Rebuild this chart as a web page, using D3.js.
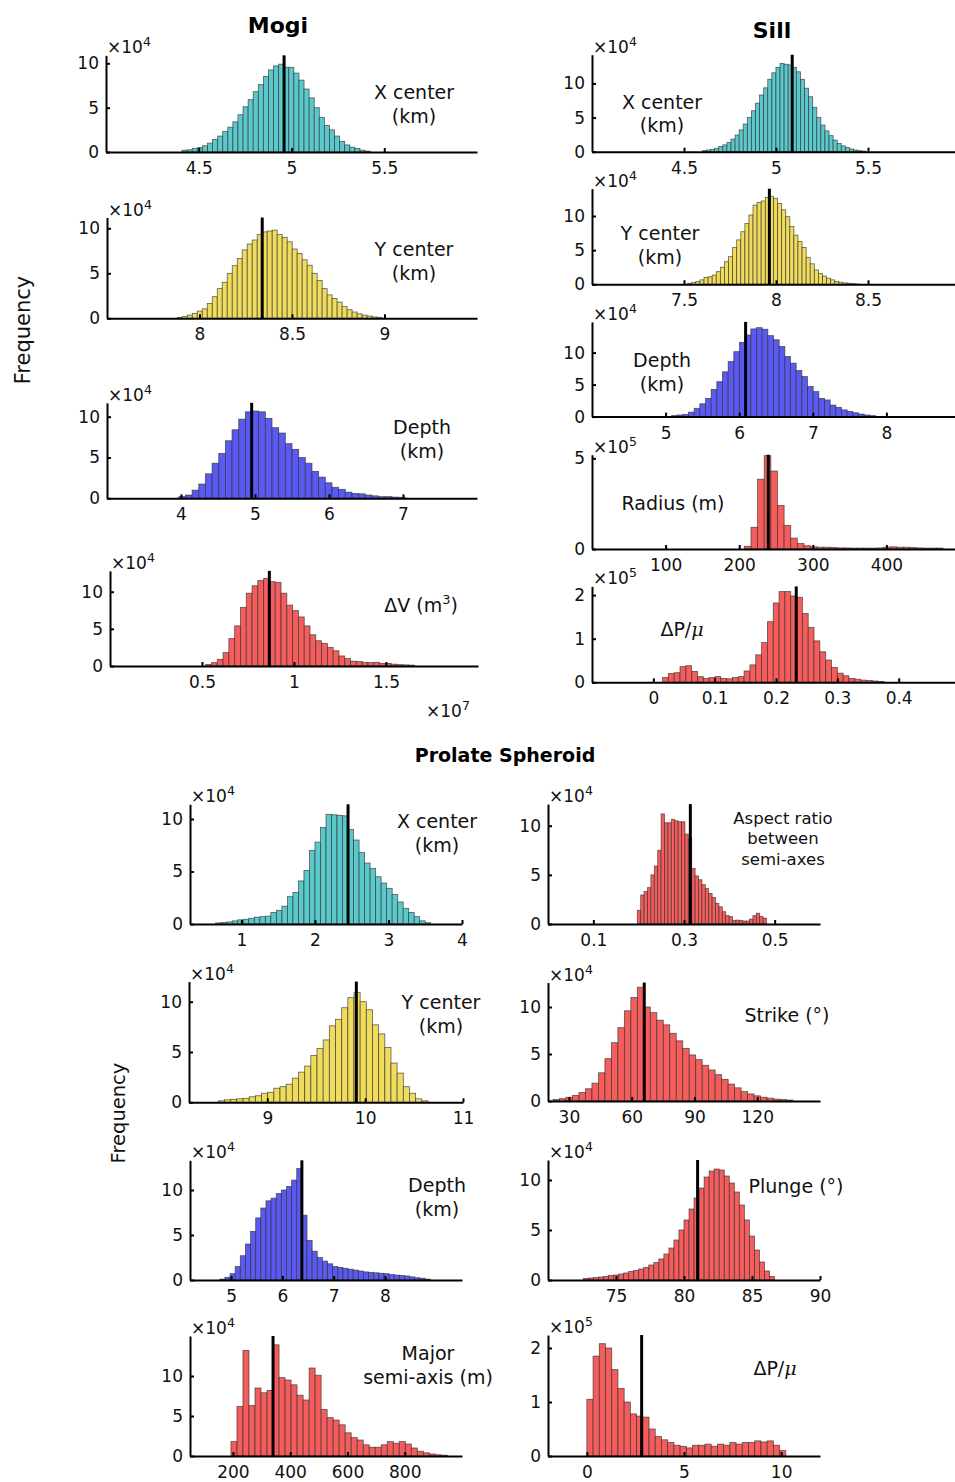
<!DOCTYPE html>
<html>
<head>
<meta charset="utf-8">
<script src="https://cdn.jsdelivr.net/npm/d3@7"></script>
<style>
  body { margin: 0; background: #fff; }
  svg { display: block; font-family: "DejaVu Sans", sans-serif; }
</style>
</head>
<body>
<svg id="fig" width="955" height="1482"></svg>
<script>
// ===== Posterior samples, binned (counts in units of the panel exponent) =====

// --- Mogi source ---
const mogiXStart = 4.41, mogiXWidth = 0.0274, mogiXBest = 4.96;
const mogiXCounts = [0.2,0.25,0.4,0.5,0.7,1.0,1.4,1.8,2.3,2.8,3.4,4.2,5.1,5.9,6.8,7.6,8.5,9.25,9.7,9.9,
  9.55,9.55,8.9,8.1,7.1,6.1,5.0,3.9,3.0,2.5,1.8,1.2,0.8,0.55,0.4,0.2,0.1];
const mogiXTicks = [4.5, 5, 5.5];

const mogiYStart = 7.88, mogiYWidth = 0.027, mogiYBest = 8.339;
const mogiYCounts = [0.1,0.2,0.35,0.55,0.8,1.05,1.65,2.4,3.3,4.0,5.0,5.85,6.65,7.6,8.25,8.7,9.3,
  9.6,9.7,9.8,9.3,9.0,8.5,7.7,7.2,6.5,5.9,5.0,4.2,3.3,2.6,2.2,1.8,1.3,0.95,0.7,0.5,0.35,0.25,0.15,0.08];
const mogiYTicks = [8, 8.5, 9];

const mogiZStart = 3.97, mogiZWidth = 0.09, mogiZBest = 4.955;
const mogiZCounts = [0.2,0.4,1.0,1.75,3.0,4.3,5.5,7.05,8.4,9.7,10.6,
  10.7,10.6,9.8,8.65,8.0,6.7,6.0,5.0,4.3,3.3,2.6,1.9,1.35,1.1,0.75,0.6,0.55,0.4,0.3,0.2,0.2,0.15,0.12];
const mogiZTicks = [4, 5, 6, 7];

const mogiVStart = 0.52, mogiVWidth = 0.0315, mogiVBest = 0.866;
const mogiVCounts = [0.2,0.45,0.9,1.8,3.7,5.4,7.9,9.8,10.8,11.5,11.8,
  11.35,11.25,9.8,8.2,7.45,6.6,5.4,4.2,3.4,3.05,2.5,2.05,1.35,1.0,0.65,0.6,0.5,0.45,0.5,0.35,0.35,0.25,0.18,0.15,0.12];
const mogiVTicks = [0.5, 1, 1.5];

// --- Sill source ---
const sillXStart = 4.6, sillXWidth = 0.0222, sillXBest = 5.088;
const sillXCounts = [0.15,0.25,0.35,0.5,0.75,1.0,1.35,1.85,2.45,3.2,4.05,5.0,6.0,7.1,8.3,9.35,10.6,11.55,12.35,12.9,12.8,12.7,
  12.35,11.7,10.6,9.3,8.05,6.5,5.0,3.9,3.05,2.35,1.7,1.2,0.85,0.6,0.4,0.25,0.15,0.1];
const sillXTicks = [4.5, 5, 5.5];

const sillYStart = 7.52, sillYWidth = 0.0222, sillYBest = 7.964;
const sillYCounts = [0.15,0.25,0.4,0.65,1.0,1.1,1.35,1.85,2.5,3.3,4.05,5.4,6.5,7.7,8.9,10.15,11.6,12.0,12.2,12.7,
  12.9,12.6,11.85,10.9,9.9,8.45,7.2,6.25,5.4,3.95,3.0,2.1,1.6,1.2,0.9,0.65,0.4,0.3,0.2,0.15,0.1,0.05];
const sillYTicks = [7.5, 8, 8.5];

const sillZStart = 5.08, sillZWidth = 0.077, sillZBest = 6.087;
const sillZCounts = [0.15,0.25,0.35,0.7,1.3,2.0,2.85,4.25,5.45,7.0,8.6,10.15,11.6,
  12.75,13.7,13.9,13.65,12.65,12.0,10.95,9.4,8.35,7.2,6.25,4.7,3.9,2.85,2.6,1.8,1.45,1.05,0.8,0.6,0.4,0.25,0.15];
const sillZTicks = [5, 6, 7, 8];

const sillRStart = 207, sillRWidth = 9, sillRBest = 239.5;
const sillRCounts = [0.15,1.2,3.85,5.15,4.3,2.4,1.3,0.6,0.3,0.18,0.12,0.1,0.1,0.08,0.06,0.06,0.05,0.05,0.05,0.05,
  0.06,0.1,0.12,0.1,0.1,0.08,0.06,0.05,0.05,0.05];
const sillRTicks = [100, 200, 300, 400];

const sillPStart = 0.015, sillPWidth = 0.0095, sillPBest = 0.233;
const sillPCounts = [0.11,0.2,0.22,0.36,0.38,0.25,0.13,0.09,0.11,0.13,0.09,0.08,0.11,0.13,0.26,0.4,0.63,0.91,1.39,1.82,
  2.08,2.08,1.98,1.95,1.58,1.26,0.95,0.7,0.51,0.34,0.21,0.15,0.09,0.07,0.05,0.04,0.03,0.02];
const sillPTicks = [0, 0.1, 0.2, 0.3, 0.4];

// --- Prolate spheroid source ---
const proXStart = 0.65, proXWidth = 0.075, proXBest = 2.45;
const proXCounts = [0.1,0.15,0.2,0.3,0.4,0.45,0.55,0.65,0.7,0.75,1.1,1.3,1.7,2.6,3.0,4.1,5.1,7.0,7.8,9.2,10.45,10.4,10.35,10.3,
  9.0,8.0,6.8,5.8,5.3,4.5,3.9,3.4,2.8,2.1,1.5,1.1,0.7,0.3,0.12];
const proXTicks = [1, 2, 3, 4];

const proAStart = 0.197, proAWidth = 0.0075, proABest = 0.314;
const proACounts = [1.4,2.95,3.3,3.7,5.0,5.9,7.5,11.2,10.3,10.3,10.65,10.5,10.4,10.4,9.15,8.7,
  5.65,4.9,4.5,4.0,3.6,3.1,2.7,2.1,1.75,1.25,0.85,0.75,0.35,0.4,0.35,0.3,0.3,0.5,0.85,1.1,0.75,0.6];
const proATicks = [0.1, 0.3, 0.5];

const proYStart = 8.5, proYWidth = 0.063, proYBest = 9.91;
const proYCounts = [0.15,0.25,0.3,0.35,0.4,0.55,0.65,0.9,1.0,1.4,1.55,1.8,2.4,3.0,3.6,4.65,5.35,6.2,7.6,8.25,9.4,10.4,
  10.9,10.0,9.2,7.7,6.8,5.45,3.9,2.9,1.55,0.9,0.35,0.15];
const proYTicks = [9, 10, 11];

const proSStart = 22.4, proSWidth = 3.1, proSBest = 66;
const proSCounts = [0.15,0.25,0.4,0.6,0.9,1.3,1.9,3.0,4.5,6.2,7.8,9.6,11.0,12.1,
  10.0,9.4,8.6,8.1,7.2,6.4,5.6,4.9,4.4,3.8,3.3,2.8,2.3,1.8,1.4,1.0,0.75,0.55,0.4,0.3,0.2,0.15,0.1];
const proSTicks = [30, 60, 90, 120];

const proZStart = 4.78, proZWidth = 0.1, proZBest = 6.38;
const proZCounts = [0.1,0.3,0.7,1.5,2.7,4.0,5.4,6.9,8.0,8.8,9.1,9.6,10.0,10.4,11.1,12.4,
  7.2,4.4,3.2,2.5,2.1,1.8,1.5,1.4,1.3,1.2,1.1,1.0,0.9,0.85,0.8,0.75,0.7,0.6,0.55,0.5,0.45,0.35,0.25,0.2,0.1];
const proZTicks = [5, 6, 7, 8];

const proPStart = 72.6, proPWidth = 0.37, proPBest = 81.0;
const proPCounts = [0.15,0.2,0.25,0.3,0.35,0.45,0.5,0.6,0.7,0.85,0.95,1.1,1.25,1.5,1.75,2.1,2.6,3.2,4.0,5.0,6.0,7.1,8.2,
  9.2,10.3,10.9,11.1,11.0,10.4,9.7,8.8,7.5,6.0,4.4,3.0,1.8,0.9,0.35];
const proPTicks = [75, 80, 85, 90];

const proMStart = 193, proMWidth = 21, proMBest = 340;
const proMCounts = [1.8,6.2,13.2,6.3,8.5,7.9,8.2,
  13.9,9.8,9.5,8.9,7.6,7.0,11.0,10.1,5.8,4.8,4.5,3.9,2.9,2.3,2.0,1.4,1.1,1.1,1.4,1.8,1.6,1.8,1.5,1.0,0.6,0.4,0.25,0.15,0.1];
const proMTicks = [200, 400, 600, 800];

const proDStart = 0, proDWidth = 0.32, proDBest = 2.82;
const proDCounts = [1.05,1.85,2.08,2.0,1.6,1.25,1.0,0.78,0.74,0.72,0.5,0.36,0.3,0.25,0.2,0.18,0.15,0.2,0.2,0.22,
  0.18,0.22,0.2,0.25,0.22,0.25,0.25,0.28,0.26,0.28,0.2,0.1];
const proDTicks = [0, 5, 10];

// ===== Styling =====
const CYAN = "#5bc9cc", YELLOW = "#f0dc5c", BLUE = "#5a5af3", RED = "#f55c5c";

// Label lines: arrays of [text, kind] where kind is "", "sup" or "it"
const panels = [
  // Mogi
  { s: mogiXStart, w: mogiXWidth, c: mogiXCounts, best: mogiXBest, xd: [4, 6], xt: mogiXTicks, yMax: 10.9, yt: [0,5,10], exp: "4", col: CYAN,
    f: { x0: 106, x1: 477, base: 152, unit: 8.87 }, lab: { x: 414, y: [92, 116], size: 19, lines: [[["X center",""]], [["(km)",""]]] } },
  { s: mogiYStart, w: mogiYWidth, c: mogiYCounts, best: mogiYBest, xd: [7.5, 9.5], xt: mogiYTicks, yMax: 11.2, yt: [0,5,10], exp: "4", col: YELLOW,
    f: { x0: 107, x1: 477, base: 318.3, unit: 9.0 }, lab: { x: 414, y: [249, 273], size: 19, lines: [[["Y center",""]], [["(km)",""]]] } },
  { s: mogiZStart, w: mogiZWidth, c: mogiZCounts, best: mogiZBest, xd: [3, 8], xt: mogiZTicks, yMax: 11.7, yt: [0,5,10], exp: "4", col: BLUE,
    f: { x0: 107, x1: 477, base: 498.3, unit: 8.16 }, lab: { x: 422, y: [427, 451], size: 19, lines: [[["Depth",""]], [["(km)",""]]] } },
  { s: mogiVStart, w: mogiVWidth, c: mogiVCounts, best: mogiVBest, xd: [0, 2], xt: mogiVTicks, yMax: 12.8, yt: [0,5,10], exp: "4", col: RED,
    f: { x0: 110, x1: 478, base: 666, unit: 7.43 }, lab: { x: 421, y: [605], size: 19, lines: [[["ΔV (m",""],["3","sup"],[")",""]]] } },
  // Sill
  { s: sillXStart, w: sillXWidth, c: sillXCounts, best: sillXBest, xd: [4, 6], xt: sillXTicks, yMax: 14.2, yt: [0,5,10], exp: "4", col: CYAN,
    f: { x0: 592, x1: 960, base: 151.7, unit: 6.83 }, lab: { x: 662, y: [102, 125], size: 19, lines: [[["X center",""]], [["(km)",""]]] } },
  { s: sillYStart, w: sillYWidth, c: sillYCounts, best: sillYBest, xd: [7, 9], xt: sillYTicks, yMax: 14.0, yt: [0,5,10], exp: "4", col: YELLOW,
    f: { x0: 592, x1: 960, base: 284.3, unit: 6.83 }, lab: { x: 660, y: [233, 257], size: 19, lines: [[["Y center",""]], [["(km)",""]]] } },
  { s: sillZStart, w: sillZWidth, c: sillZCounts, best: sillZBest, xd: [4, 9], xt: sillZTicks, yMax: 14.8, yt: [0,5,10], exp: "4", col: BLUE,
    f: { x0: 592, x1: 960, base: 416.6, unit: 6.4 }, lab: { x: 662, y: [360, 384], size: 19, lines: [[["Depth",""]], [["(km)",""]]] } },
  { s: sillRStart, w: sillRWidth, c: sillRCounts, best: sillRBest, xd: [0, 500], xt: sillRTicks, yMax: 5.2, yt: [0,5], exp: "5", col: RED,
    f: { x0: 592, x1: 960, base: 549, unit: 18.13 }, lab: { x: 673, y: [503], size: 19, lines: [[["Radius (m)",""]]] } },
  { s: sillPStart, w: sillPWidth, c: sillPCounts, best: sillPBest, xd: [-0.1, 0.5], xt: sillPTicks, yMax: 2.2, yt: [0,1,2], exp: "5", col: RED,
    f: { x0: 592, x1: 960, base: 682.3, unit: 43.6 }, lab: { x: 682, y: [629], size: 19, lines: [[["ΔP/",""],["μ","it"]]] } },
  // Prolate spheroid, left column
  { s: proXStart, w: proXWidth, c: proXCounts, best: proXBest, xd: [0.3, 4], xt: proXTicks, yMax: 11.4, yt: [0,5,10], exp: "4", col: CYAN,
    f: { x0: 190, x1: 462, base: 924, unit: 10.5 }, lab: { x: 437, y: [821, 845], size: 19, lines: [[["X center",""]], [["(km)",""]]] } },
  { s: proYStart, w: proYWidth, c: proYCounts, best: proYBest, xd: [8.2, 11], xt: proYTicks, yMax: 12.0, yt: [0,5,10], exp: "4", col: YELLOW,
    f: { x0: 189, x1: 463, base: 1102.3, unit: 10.06 }, lab: { x: 441, y: [1002, 1026], size: 19, lines: [[["Y center",""]], [["(km)",""]]] } },
  { s: proZStart, w: proZWidth, c: proZCounts, best: proZBest, xd: [4.2, 9.5], xt: proZTicks, yMax: 13.3, yt: [0,5,10], exp: "4", col: BLUE,
    f: { x0: 190, x1: 462, base: 1280, unit: 9.0 }, lab: { x: 437, y: [1185, 1209], size: 19, lines: [[["Depth",""]], [["(km)",""]]] } },
  { s: proMStart, w: proMWidth, c: proMCounts, best: proMBest, xd: [50, 1000], xt: proMTicks, yMax: 15, yt: [0,5,10], exp: "4", col: RED,
    f: { x0: 190, x1: 462, base: 1456, unit: 8.0 }, lab: { x: 428, y: [1353, 1377], size: 19, lines: [[["Major",""]], [["semi-axis (m)",""]]] } },
  // Prolate spheroid, right column
  { s: proAStart, w: proAWidth, c: proACounts, best: proABest, xd: [0, 0.6], xt: proATicks, yMax: 12.2, yt: [0,5,10], exp: "4", col: RED,
    f: { x0: 548, x1: 820, base: 924, unit: 9.83 }, lab: { x: 783, y: [818, 838, 859], size: 16.5, lines: [[["Aspect ratio",""]], [["between",""]], [["semi-axes",""]]] } },
  { s: proSStart, w: proSWidth, c: proSCounts, best: proSBest, xd: [20, 150], xt: proSTicks, yMax: 12.6, yt: [0,5,10], exp: "4", col: RED,
    f: { x0: 548, x1: 820, base: 1101, unit: 9.4 }, lab: { x: 787, y: [1015], size: 19, lines: [[["Strike (°)",""]]] } },
  { s: proPStart, w: proPWidth, c: proPCounts, best: proPBest, xd: [70, 90], xt: proPTicks, yMax: 12.0, yt: [0,5,10], exp: "4", col: RED,
    f: { x0: 548, x1: 820, base: 1280, unit: 10.0 }, lab: { x: 796, y: [1186], size: 19, lines: [[["Plunge (°)",""]]] } },
  { s: proDStart, w: proDWidth, c: proDCounts, best: proDBest, xd: [-2, 12], xt: proDTicks, yMax: 2.24, yt: [0,1,2], exp: "5", col: RED,
    f: { x0: 548, x1: 820, base: 1456, unit: 54 }, lab: { x: 775, y: [1368], size: 19, lines: [[["ΔP/",""],["μ","it"]]] } }
];

const svg = d3.select("#fig");

function richText(sel, parts, size) {
  let raised = false;
  parts.forEach(([t, kind]) => {
    const ts = sel.append("tspan").text(t);
    if (kind === "sup") {
      ts.attr("font-size", size * 0.68).attr("dy", -size * 0.42);
      raised = true;
    } else {
      if (kind === "it") ts.attr("font-style", "italic").attr("font-family", "DejaVu Serif, serif");
      if (raised) { ts.attr("dy", size * 0.42); raised = false; }
    }
  });
}

panels.forEach(p => {
  const g = svg.append("g");
  const top = p.f.base - p.yMax * p.f.unit;
  const x = d3.scaleLinear().domain(p.xd).range([p.f.x0, p.f.x1]);
  const y = d3.scaleLinear().domain([0, p.yMax]).range([p.f.base, top]);

  const bins = p.c.map((v, i) => ({ x0: p.s + i * p.w, x1: p.s + (i + 1) * p.w, v }));
  g.selectAll("rect.bar").data(bins).join("rect")
    .attr("class", "bar")
    .attr("x", d => x(d.x0))
    .attr("width", d => x(d.x1) - x(d.x0))
    .attr("y", d => y(d.v))
    .attr("height", d => y(0) - y(d.v))
    .attr("fill", p.col)
    .attr("stroke", "#2e2e2e")
    .attr("stroke-opacity", 0.75)
    .attr("stroke-width", 0.8);

  // best-fit value
  g.append("line")
    .attr("x1", x(p.best)).attr("x2", x(p.best))
    .attr("y1", y(0)).attr("y2", y(p.yMax))
    .attr("stroke", "#000").attr("stroke-width", 3);

  const xAxis = g.append("g").attr("transform", `translate(0,${p.f.base})`)
    .call(d3.axisBottom(x).tickValues(p.xt).tickFormat(d => String(d))
      .tickSize(-4).tickSizeOuter(0).tickPadding(10));
  const yAxis = g.append("g").attr("transform", `translate(${p.f.x0},0)`)
    .call(d3.axisLeft(y).tickValues(p.yt).tickFormat(d => String(d))
      .tickSize(-4).tickSizeOuter(0).tickPadding(7));
  [xAxis, yAxis].forEach(a => {
    a.select(".domain").attr("stroke", "#000").attr("stroke-width", 2);
    a.selectAll(".tick line").attr("stroke", "#000").attr("stroke-width", 2);
    a.selectAll(".tick text").attr("font-size", 17).attr("fill", "#111")
      .attr("font-family", "DejaVu Sans, sans-serif");
  });

  // exponent of the counts axis
  const ex = g.append("text").attr("x", p.f.x0 + 1).attr("y", top - 2)
    .attr("font-size", 17).attr("fill", "#111");
  ex.append("tspan").text("×10");
  ex.append("tspan").text(p.exp).attr("font-size", 12.5).attr("dy", -7);

  // parameter name
  p.lab.lines.forEach((parts, i) => {
    const t = g.append("text").attr("x", p.lab.x).attr("y", p.lab.y[i] + p.lab.size * 0.36)
      .attr("text-anchor", "middle").attr("font-size", p.lab.size).attr("fill", "#111");
    richText(t, parts, p.lab.size);
  });
});

// Exponent of the ΔV axis
const e7 = svg.append("text").attr("x", 426).attr("y", 717).attr("font-size", 17).attr("fill", "#111");
e7.append("tspan").text("×10");
e7.append("tspan").text("7").attr("font-size", 12.5).attr("dy", -7);

// Column and block titles
svg.append("text").attr("x", 278).attr("y", 33).attr("text-anchor", "middle")
  .attr("font-size", 22).attr("font-weight", "bold").text("Mogi");
svg.append("text").attr("x", 772).attr("y", 38).attr("text-anchor", "middle")
  .attr("font-size", 22).attr("font-weight", "bold").text("Sill");
svg.append("text").attr("x", 505).attr("y", 762).attr("text-anchor", "middle")
  .attr("font-size", 19).attr("font-weight", "bold").text("Prolate Spheroid");

// Shared y-axis titles
svg.append("text").attr("transform", "translate(30,330) rotate(-90)").attr("text-anchor", "middle")
  .attr("font-size", 21).attr("fill", "#111").text("Frequency");
svg.append("text").attr("transform", "translate(125,1113) rotate(-90)").attr("text-anchor", "middle")
  .attr("font-size", 19.5).attr("fill", "#111").text("Frequency");
</script>
</body>
</html>
